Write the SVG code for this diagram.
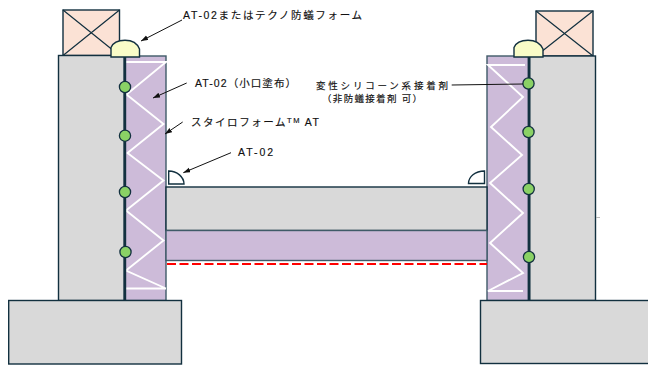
<svg xmlns="http://www.w3.org/2000/svg" width="648" height="368" viewBox="0 0 648 368">
<style>
.c{fill:#d9d9d9;stroke:#12303f;stroke-width:1.400}
.p{fill:#cdbbd9;stroke:#3f5a68;stroke-width:1.400}
.w{fill:#fbe2d5;stroke:#12303f;stroke-width:1.400}
.x{fill:none;stroke:#12303f;stroke-width:1.200}
.d{fill:#f9fcc8;stroke:#12303f;stroke-width:1.400}
.q{fill:#fff;stroke:#12303f;stroke-width:1.400}
.z{fill:none;stroke:#fff;stroke-width:1.900}
.m{fill:none;stroke:#12303f;stroke-width:2.800}
.g{fill:#8ad165;stroke:#12303f;stroke-width:1.300}
.a{fill:none;stroke:#111;stroke-width:1;marker-end:url(#ah)}
text{font-family:"Liberation Sans","Noto Sans CJK JP",sans-serif;font-size:10.500px;fill:#111;stroke:#111;stroke-width:.15}
</style>
<defs><marker id="ah" markerUnits="userSpaceOnUse" markerWidth="8" markerHeight="6" refX="7" refY="2.500" orient="auto"><path d="M0 0L7 2.500L0 5Z" fill="#111"/></marker></defs>
<g id="wood-left"><rect class="w" x="63" y="10" width="56.500" height="45.500"/><path class="x" d="M63 10L119.500 55.500M119.500 10L63 55.500"/></g>
<g id="wood-right"><rect class="w" x="536" y="11" width="57" height="45"/><path class="x" d="M536 11L593 56M593 11L536 56"/></g>
<g id="wall-left"><rect class="c" x="58.500" y="55.500" width="66" height="245"/></g>
<g id="wall-right"><rect class="c" x="529.500" y="56" width="66" height="244.500"/></g>
<g id="insulation-left"><rect class="p" x="125" y="56" width="41" height="244.500"/><path class="z" d="M124 62H166L126.500 94.500L163.500 124L127.500 153L163.500 180.500L126 210.500L163.500 240.500L126 270.500L166 288.500M126 288.500H166"/></g>
<g id="insulation-right"><rect class="p" x="487" y="56" width="42" height="244.500"/><path class="z" d="M525 65H488L523 97L491 127L522 155L490 183L523 213L490 243L523 273L488 291H523"/></g>
<g id="floor"><rect class="c" x="166" y="187" width="321" height="43.500"/><rect class="p" x="166" y="230.500" width="321" height="30"/><path d="M167 264H487" fill="none" stroke="#f00" stroke-width="2" stroke-dasharray="9 3.500"/></g>
<g id="footing-left"><rect class="c" x="8.700" y="300.500" width="172.800" height="63.500"/></g>
<g id="footing-right"><rect class="c" x="480.500" y="300.500" width="168.500" height="63"/></g>
<path d="M596 217.500H600" stroke="#aaa" stroke-width=".8"/>
<g id="membranes"><path class="m" d="M124.800 56V300"/><path class="m" d="M529 56V300"/></g>
<g id="dome-left"><path class="d" d="M111 57V47.500C113 42.500 119 40.200 125 40.200C131 40.200 137 42.500 139.500 49V57Z"/></g>
<g id="dome-right"><path class="d" d="M514 57V47.500C516 42.500 522 40.200 528 40.200C534 40.200 540 42.500 543 49V57Z"/></g>
<g id="fillet-left"><path class="q" d="M168.700 171V184H184C184 177 177 171 168.700 171Z"/></g>
<g id="fillet-right"><path class="q" d="M484.500 171V183.500H468.500C468.500 177 475 171 484.500 171Z"/></g>
<g id="dots"><circle class="g" cx="125" cy="87" r="5.600"/><circle class="g" cx="125" cy="135.700" r="5.600"/><circle class="g" cx="125" cy="192" r="5.600"/><circle class="g" cx="125.500" cy="252" r="5.600"/><circle class="g" cx="528.500" cy="83.500" r="5.600"/><circle class="g" cx="528.500" cy="132" r="5.600"/><circle class="g" cx="528.700" cy="189" r="5.600"/><circle class="g" cx="529" cy="257" r="5.600"/></g>
<g id="connectors"><path class="a" d="M182 20L141 41"/><path class="a" d="M186.700 83L153 98"/><path class="a" d="M182.700 122L165 134"/><path class="a" d="M231 152.700L183.300 172.700"/><path fill="none" stroke="#111" stroke-width="1" d="M451.700 85L523 84"/></g>
<g id="labels">
<text x="183" y="18.500" textLength="179" lengthAdjust="spacing">AT-02またはテクノ防蟻フォーム</text>
<text x="195" y="87" textLength="101" lengthAdjust="spacing">AT-02（小口塗布）</text>
<text x="191" y="126" textLength="128" lengthAdjust="spacing">スタイロフォーム<tspan font-size="7.500" dy="-3">TM</tspan><tspan dy="3"> AT</tspan></text>
<text x="238" y="155.500" textLength="35" lengthAdjust="spacing">AT-02</text>
<text x="316" y="88.500" textLength="132" lengthAdjust="spacing" font-size="9.500" style="font-size:9.500px">変性シリコーン系接着剤</text>
<text x="322" y="102" textLength="100" lengthAdjust="spacing" style="font-size:9.500px">（非防蟻接着剤 可）</text>
</g>
</svg>
